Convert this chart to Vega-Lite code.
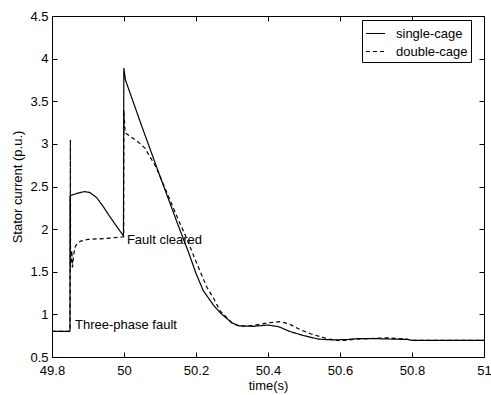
{
  "$schema": "https://vega.github.io/schema/vega-lite/v6.json",
  "width": 432,
  "height": 341,
  "autosize": "none",
  "padding": {"left": 52, "top": 16, "right": 7, "bottom": 38},
  "background": "white",
  "config": {
    "font": "Liberation Sans",
    "view": {"stroke": "black", "strokeWidth": 1},
    "axis": {"grid": false, "domainColor": "black", "tickColor": "black", "labelColor": "black", "titleColor": "black", "labelFontSize": 13, "titleFontSize": 13, "titleFontWeight": "normal", "labelFont": "Liberation Sans", "titleFont": "Liberation Sans"}
  },
  "datasets": {
    "curves": [
      {"t": 49.8, "v": 0.8, "s": "single-cage"},
      {"t": 49.85, "v": 0.8, "s": "single-cage"},
      {"t": 49.8502, "v": 2.39, "s": "single-cage"},
      {"t": 49.855, "v": 2.4, "s": "single-cage"},
      {"t": 49.87, "v": 2.42, "s": "single-cage"},
      {"t": 49.89, "v": 2.44, "s": "single-cage"},
      {"t": 49.905, "v": 2.43, "s": "single-cage"},
      {"t": 49.924, "v": 2.37, "s": "single-cage"},
      {"t": 49.943, "v": 2.26, "s": "single-cage"},
      {"t": 49.96, "v": 2.15, "s": "single-cage"},
      {"t": 49.98, "v": 2.03, "s": "single-cage"},
      {"t": 49.9985, "v": 1.92, "s": "single-cage"},
      {"t": 49.9995, "v": 3.89, "s": "single-cage"},
      {"t": 50.004, "v": 3.75, "s": "single-cage"},
      {"t": 50.05, "v": 3.2, "s": "single-cage"},
      {"t": 50.1, "v": 2.62, "s": "single-cage"},
      {"t": 50.15, "v": 2.05, "s": "single-cage"},
      {"t": 50.18, "v": 1.72, "s": "single-cage"},
      {"t": 50.2, "v": 1.48, "s": "single-cage"},
      {"t": 50.22, "v": 1.28, "s": "single-cage"},
      {"t": 50.25, "v": 1.1, "s": "single-cage"},
      {"t": 50.267, "v": 1.02, "s": "single-cage"},
      {"t": 50.3, "v": 0.9, "s": "single-cage"},
      {"t": 50.32, "v": 0.865, "s": "single-cage"},
      {"t": 50.36, "v": 0.86, "s": "single-cage"},
      {"t": 50.4, "v": 0.875, "s": "single-cage"},
      {"t": 50.43, "v": 0.855, "s": "single-cage"},
      {"t": 50.46, "v": 0.8, "s": "single-cage"},
      {"t": 50.5, "v": 0.75, "s": "single-cage"},
      {"t": 50.54, "v": 0.71, "s": "single-cage"},
      {"t": 50.58, "v": 0.7, "s": "single-cage"},
      {"t": 50.62, "v": 0.705, "s": "single-cage"},
      {"t": 50.647, "v": 0.715, "s": "single-cage"},
      {"t": 50.7, "v": 0.715, "s": "single-cage"},
      {"t": 50.75, "v": 0.71, "s": "single-cage"},
      {"t": 50.79, "v": 0.705, "s": "single-cage"},
      {"t": 50.8, "v": 0.695, "s": "single-cage"},
      {"t": 51.0, "v": 0.695, "s": "single-cage"},
      {"t": 49.8, "v": 0.8, "s": "double-cage"},
      {"t": 49.85, "v": 0.8, "s": "double-cage"},
      {"t": 49.8505, "v": 1.2, "s": "double-cage"},
      {"t": 49.851, "v": 3.05, "s": "double-cage"},
      {"t": 49.8515, "v": 1.55, "s": "double-cage"},
      {"t": 49.855, "v": 1.75, "s": "double-cage"},
      {"t": 49.857, "v": 1.55, "s": "double-cage"},
      {"t": 49.86, "v": 1.7, "s": "double-cage"},
      {"t": 49.865, "v": 1.8, "s": "double-cage"},
      {"t": 49.872, "v": 1.84, "s": "double-cage"},
      {"t": 49.88, "v": 1.86, "s": "double-cage"},
      {"t": 49.9, "v": 1.88, "s": "double-cage"},
      {"t": 49.95, "v": 1.89, "s": "double-cage"},
      {"t": 49.999, "v": 1.91, "s": "double-cage"},
      {"t": 49.9995, "v": 3.4, "s": "double-cage"},
      {"t": 50.003, "v": 3.13, "s": "double-cage"},
      {"t": 50.02, "v": 3.08, "s": "double-cage"},
      {"t": 50.04, "v": 3.02, "s": "double-cage"},
      {"t": 50.058, "v": 2.95, "s": "double-cage"},
      {"t": 50.086, "v": 2.75, "s": "double-cage"},
      {"t": 50.1, "v": 2.62, "s": "double-cage"},
      {"t": 50.15, "v": 2.12, "s": "double-cage"},
      {"t": 50.17, "v": 1.93, "s": "double-cage"},
      {"t": 50.2, "v": 1.62, "s": "double-cage"},
      {"t": 50.21, "v": 1.52, "s": "double-cage"},
      {"t": 50.23, "v": 1.32, "s": "double-cage"},
      {"t": 50.25, "v": 1.18, "s": "double-cage"},
      {"t": 50.267, "v": 1.04, "s": "double-cage"},
      {"t": 50.3, "v": 0.9, "s": "double-cage"},
      {"t": 50.32, "v": 0.86, "s": "double-cage"},
      {"t": 50.36, "v": 0.87, "s": "double-cage"},
      {"t": 50.4, "v": 0.9, "s": "double-cage"},
      {"t": 50.434, "v": 0.915, "s": "double-cage"},
      {"t": 50.46, "v": 0.885, "s": "double-cage"},
      {"t": 50.49, "v": 0.82, "s": "double-cage"},
      {"t": 50.52, "v": 0.77, "s": "double-cage"},
      {"t": 50.544, "v": 0.74, "s": "double-cage"},
      {"t": 50.57, "v": 0.71, "s": "double-cage"},
      {"t": 50.6, "v": 0.69, "s": "double-cage"},
      {"t": 50.647, "v": 0.71, "s": "double-cage"},
      {"t": 50.7, "v": 0.72, "s": "double-cage"},
      {"t": 50.73, "v": 0.725, "s": "double-cage"},
      {"t": 50.786, "v": 0.71, "s": "double-cage"},
      {"t": 50.8, "v": 0.695, "s": "double-cage"},
      {"t": 51.0, "v": 0.695, "s": "double-cage"}
    ],
    "notes": [
      {"t": 49.864, "v": 0.87, "label": "Three-phase fault"},
      {"t": 50.008, "v": 1.87, "label": "Fault cleared"}
    ]
  },
  "layer": [
    {
      "data": {"name": "curves"},
      "mark": {"type": "line", "color": "black", "strokeWidth": 1.2, "clip": true},
      "encoding": {
        "x": {"field": "t", "type": "quantitative", "title": "time(s)",
          "scale": {"domain": [49.8, 51], "nice": false, "zero": false},
          "axis": {"values": [49.8, 50, 50.2, 50.4, 50.6, 50.8, 51], "tickSize": -5, "labelPadding": 12, "titlePadding": 2, "format": "~g", "labelFlush": false}},
        "y": {"field": "v", "type": "quantitative", "title": "Stator current (p.u.)",
          "scale": {"domain": [0.5, 4.5], "nice": false, "zero": false},
          "axis": {"values": [0.5, 1, 1.5, 2, 2.5, 3, 3.5, 4, 4.5], "tickSize": -5, "labelPadding": 9, "titlePadding": 5, "format": "~g"}},
        "strokeDash": {"field": "s", "type": "nominal",
          "scale": {"domain": ["single-cage", "double-cage"], "range": [[1, 0], [4, 3]]},
          "legend": {"title": null, "orient": "none", "legendX": 310, "legendY": 4, "strokeColor": "black", "fillColor": "white", "padding": 3, "symbolType": "stroke", "symbolSize": 361, "symbolStrokeWidth": 1.2, "symbolStrokeColor": "black", "labelFontSize": 13, "labelColor": "black", "rowPadding": 0, "labelOffset": 10}}
      }
    },
    {
      "data": {"name": "notes"},
      "mark": {"type": "text", "align": "left", "baseline": "middle", "fontSize": 13, "color": "black"},
      "encoding": {
        "x": {"field": "t", "type": "quantitative",
          "axis": {"orient": "top", "values": [49.8, 50, 50.2, 50.4, 50.6, 50.8, 51], "tickSize": -5, "labels": false, "title": null, "domain": false}},
        "y": {"field": "v", "type": "quantitative",
          "axis": {"orient": "right", "values": [0.5, 1, 1.5, 2, 2.5, 3, 3.5, 4, 4.5], "tickSize": -5, "labels": false, "title": null, "domain": false}},
        "text": {"field": "label"}
      }
    }
  ],
  "resolve": {"axis": {"x": "independent", "y": "independent"}}
}
